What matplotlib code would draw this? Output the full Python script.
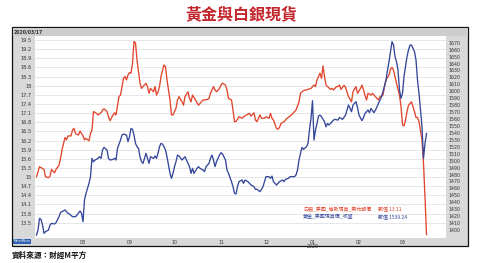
import matplotlib
matplotlib.use("Agg")
import matplotlib.pyplot as plt
from matplotlib.patches import Rectangle
import pandas as pd

CJK = ["Noto Sans CJK TC", "DejaVu Sans"]

title = "黃金與白銀現貨"
header_date = "2020/03/17"
source = "資料來源：財經M平方"
silver_name = "白銀_美國_倫敦現貨_美元報價"
gold_name = "黃金_美國現貨價_收盤"
silver_last = "13.11"
gold_last = "1539.24"

silver_dates = [
    "2019-07-01", "2019-07-02", "2019-07-03", "2019-07-04", "2019-07-06", "2019-07-07", "2019-07-09", "2019-07-10",
    "2019-07-11", "2019-07-13", "2019-07-14", "2019-07-16", "2019-07-17", "2019-07-18", "2019-07-20", "2019-07-21",
    "2019-07-22", "2019-07-24", "2019-07-25", "2019-07-26", "2019-07-27", "2019-07-29", "2019-07-30", "2019-08-01",
    "2019-08-02", "2019-08-03", "2019-08-05", "2019-08-06", "2019-08-07", "2019-08-08", "2019-08-10", "2019-08-11",
    "2019-08-13", "2019-08-14", "2019-08-15", "2019-08-17", "2019-08-18", "2019-08-19", "2019-08-21", "2019-08-22",
    "2019-08-23", "2019-08-25", "2019-08-26", "2019-08-28", "2019-08-29", "2019-08-30", "2019-08-31", "2019-09-01",
    "2019-09-02", "2019-09-03", "2019-09-04", "2019-09-05", "2019-09-06", "2019-09-08", "2019-09-09", "2019-09-10",
    "2019-09-12", "2019-09-13", "2019-09-14", "2019-09-15", "2019-09-17", "2019-09-18", "2019-09-19", "2019-09-20",
    "2019-09-21", "2019-09-22", "2019-09-24", "2019-09-25", "2019-09-26", "2019-09-27", "2019-09-28", "2019-09-29",
    "2019-09-30", "2019-10-02", "2019-10-03", "2019-10-04", "2019-10-06", "2019-10-07", "2019-10-08", "2019-10-10",
    "2019-10-11", "2019-10-12", "2019-10-13", "2019-10-15", "2019-10-16", "2019-10-17", "2019-10-19", "2019-10-20",
    "2019-10-21", "2019-10-23", "2019-10-24", "2019-10-25", "2019-10-27", "2019-10-28", "2019-10-29", "2019-10-31",
    "2019-11-01", "2019-11-02", "2019-11-04", "2019-11-05", "2019-11-06", "2019-11-08", "2019-11-09", "2019-11-10",
    "2019-11-11", "2019-11-13", "2019-11-15", "2019-11-16", "2019-11-18", "2019-11-20", "2019-11-21", "2019-11-23",
    "2019-11-24", "2019-11-25", "2019-11-27", "2019-11-28", "2019-11-30", "2019-12-01", "2019-12-03", "2019-12-04",
    "2019-12-05", "2019-12-06", "2019-12-08", "2019-12-09", "2019-12-10", "2019-12-11", "2019-12-13", "2019-12-15",
    "2019-12-17", "2019-12-18", "2019-12-20", "2019-12-21", "2019-12-23", "2019-12-24", "2019-12-26", "2019-12-28",
    "2019-12-29", "2019-12-31", "2020-01-02", "2020-01-03", "2020-01-04", "2020-01-06", "2020-01-07", "2020-01-08",
    "2020-01-09", "2020-01-10", "2020-01-11", "2020-01-13", "2020-01-14", "2020-01-15", "2020-01-17", "2020-01-18",
    "2020-01-19", "2020-01-20", "2020-01-22", "2020-01-23", "2020-01-25", "2020-01-27", "2020-01-28", "2020-01-30",
    "2020-01-31", "2020-02-02", "2020-02-03", "2020-02-05", "2020-02-06", "2020-02-07", "2020-02-09", "2020-02-10",
    "2020-02-11", "2020-02-13", "2020-02-14", "2020-02-15", "2020-02-17", "2020-02-18", "2020-02-19", "2020-02-21",
    "2020-02-22", "2020-02-23", "2020-02-24", "2020-02-25", "2020-02-26", "2020-02-28", "2020-02-29", "2020-03-01",
    "2020-03-02", "2020-03-03", "2020-03-04", "2020-03-05", "2020-03-07", "2020-03-08", "2020-03-09", "2020-03-10",
    "2020-03-11", "2020-03-12", "2020-03-14", "2020-03-15", "2020-03-16", "2020-03-17",
]
silver_values = [
    15.01, 15.18, 15.34, 15.31, 15.25, 15.01, 14.98, 15.03,
    15.25, 15.14, 15.25, 15.39, 15.61, 15.89, 16.30, 16.22,
    16.35, 16.35, 16.54, 16.60, 16.43, 16.38, 16.51, 16.35,
    16.22, 16.27, 16.19, 16.43, 16.54, 17.15, 17.09, 17.04,
    17.11, 17.20, 17.24, 17.15, 16.98, 16.85, 17.04, 17.11,
    17.04, 17.64, 17.69, 18.24, 18.30, 18.19, 18.35, 18.43,
    18.41, 18.73, 19.45, 19.40, 18.84, 18.08, 17.91, 17.97,
    18.08, 17.97, 17.75, 17.91, 17.80, 17.97, 17.69, 17.80,
    17.97, 18.30, 18.68, 18.62, 18.19, 17.86, 17.53, 17.04,
    17.04, 17.26, 17.53, 17.64, 17.47, 17.36, 17.64, 17.80,
    17.58, 17.47, 17.69, 17.53, 17.44, 17.36, 17.47, 17.53,
    17.53, 17.55, 17.58, 17.75, 17.97, 17.86, 17.80, 17.91,
    18.02, 18.08, 18.02, 17.86, 17.58, 17.53, 17.20, 16.82,
    16.82, 16.98, 16.93, 16.98, 17.04, 17.09, 17.00, 17.11,
    16.87, 16.82, 17.04, 16.93, 16.93, 16.98, 16.93, 17.09,
    16.93, 16.87, 16.60, 16.57, 16.63, 16.76, 16.82, 16.93,
    17.00, 17.04, 17.15, 17.20, 17.47, 17.75, 17.84, 17.86,
    17.88, 17.91, 18.02, 17.97, 18.19, 18.41, 18.24, 18.65,
    18.30, 18.02, 17.97, 17.88, 17.91, 17.86, 17.97, 17.97,
    18.02, 17.88, 18.01, 17.95, 17.64, 17.47, 17.80, 17.97,
    17.75, 17.91, 18.02, 17.69, 17.53, 17.75, 17.69, 17.75,
    17.69, 17.58, 17.53, 17.64, 17.69, 17.97, 18.19, 18.35,
    18.54, 18.60, 18.51, 18.30, 18.08, 17.69, 17.31, 16.71,
    16.68, 16.87, 17.15, 17.36, 17.47, 17.31, 17.15, 16.96,
    16.96, 16.82, 16.22, 15.45, 14.35, 13.11,
]

gold_dates = [
    "2019-07-01", "2019-07-02", "2019-07-03", "2019-07-04", "2019-07-05", "2019-07-06", "2019-07-07", "2019-07-09",
    "2019-07-10", "2019-07-11", "2019-07-13", "2019-07-14", "2019-07-16", "2019-07-17", "2019-07-18", "2019-07-20",
    "2019-07-22", "2019-07-23", "2019-07-25", "2019-07-27", "2019-07-28", "2019-07-30", "2019-07-31", "2019-08-01",
    "2019-08-02", "2019-08-03", "2019-08-05", "2019-08-06", "2019-08-07", "2019-08-08", "2019-08-09", "2019-08-11",
    "2019-08-12", "2019-08-13", "2019-08-14", "2019-08-15", "2019-08-17", "2019-08-18", "2019-08-19", "2019-08-21",
    "2019-08-22", "2019-08-23", "2019-08-24", "2019-08-26", "2019-08-27", "2019-08-28", "2019-08-30", "2019-08-31",
    "2019-09-01", "2019-09-02", "2019-09-03", "2019-09-04", "2019-09-05", "2019-09-06", "2019-09-07", "2019-09-08",
    "2019-09-09", "2019-09-10", "2019-09-11", "2019-09-12", "2019-09-13", "2019-09-14", "2019-09-15", "2019-09-17",
    "2019-09-18", "2019-09-19", "2019-09-20", "2019-09-21", "2019-09-22", "2019-09-23", "2019-09-24", "2019-09-25",
    "2019-09-26", "2019-09-27", "2019-09-28", "2019-09-29", "2019-09-30", "2019-10-01", "2019-10-02", "2019-10-03",
    "2019-10-04", "2019-10-06", "2019-10-07", "2019-10-08", "2019-10-10", "2019-10-11", "2019-10-12", "2019-10-13",
    "2019-10-14", "2019-10-16", "2019-10-17", "2019-10-18", "2019-10-20", "2019-10-21", "2019-10-22", "2019-10-24",
    "2019-10-25", "2019-10-26", "2019-10-27", "2019-10-28", "2019-10-29", "2019-10-31", "2019-11-01", "2019-11-02",
    "2019-11-04", "2019-11-05", "2019-11-06", "2019-11-08", "2019-11-09", "2019-11-10", "2019-11-11", "2019-11-12",
    "2019-11-13", "2019-11-15", "2019-11-16", "2019-11-17", "2019-11-19", "2019-11-20", "2019-11-21", "2019-11-23",
    "2019-11-24", "2019-11-25", "2019-11-27", "2019-11-28", "2019-11-29", "2019-11-30", "2019-12-01", "2019-12-03",
    "2019-12-04", "2019-12-05", "2019-12-06", "2019-12-08", "2019-12-09", "2019-12-10", "2019-12-12", "2019-12-13",
    "2019-12-14", "2019-12-16", "2019-12-17", "2019-12-18", "2019-12-20", "2019-12-21", "2019-12-22", "2019-12-23",
    "2019-12-24", "2019-12-25", "2019-12-26", "2019-12-28", "2019-12-29", "2019-12-30", "2019-12-31", "2020-01-01",
    "2020-01-02", "2020-01-03", "2020-01-04", "2020-01-05", "2020-01-06", "2020-01-07", "2020-01-09", "2020-01-10",
    "2020-01-11", "2020-01-12", "2020-01-14", "2020-01-15", "2020-01-16", "2020-01-18", "2020-01-19", "2020-01-20",
    "2020-01-21", "2020-01-23", "2020-01-24", "2020-01-25", "2020-01-26", "2020-01-27", "2020-01-28", "2020-01-30",
    "2020-01-31", "2020-02-01", "2020-02-03", "2020-02-04", "2020-02-05", "2020-02-07", "2020-02-08", "2020-02-09",
    "2020-02-11", "2020-02-12", "2020-02-13", "2020-02-15", "2020-02-16", "2020-02-17", "2020-02-19", "2020-02-20",
    "2020-02-21", "2020-02-22", "2020-02-23", "2020-02-24", "2020-02-25", "2020-02-26", "2020-02-27", "2020-02-28",
    "2020-02-29", "2020-03-01", "2020-03-02", "2020-03-03", "2020-03-04", "2020-03-05", "2020-03-06", "2020-03-07",
    "2020-03-08", "2020-03-09", "2020-03-10", "2020-03-11", "2020-03-12", "2020-03-13", "2020-03-14", "2020-03-15",
    "2020-03-16", "2020-03-17",
]
gold_values = [
    1392.8, 1400.0, 1416.8, 1415.4, 1407.2, 1395.2, 1397.6, 1400.0,
    1407.2, 1409.6, 1408.7, 1410.6, 1419.2, 1425.0, 1426.5, 1428.9,
    1424.1, 1423.1, 1419.2, 1419.2, 1421.6, 1427.4, 1424.1, 1412.0,
    1443.3, 1452.9, 1467.3, 1476.9, 1503.3, 1498.5, 1500.9, 1503.3,
    1505.7, 1503.3, 1515.3, 1519.1, 1515.3, 1503.3, 1500.9, 1501.8,
    1503.3, 1500.9, 1517.7, 1529.7, 1536.9, 1538.4, 1536.9, 1527.4,
    1534.5, 1546.5, 1545.1, 1536.9, 1524.9, 1520.1, 1517.7, 1505.7,
    1498.5, 1496.1, 1503.3, 1510.5, 1503.3, 1496.1, 1505.7, 1503.3,
    1506.7, 1503.3, 1510.5, 1520.1, 1524.9, 1523.9, 1520.1, 1515.3,
    1505.7, 1493.7, 1481.7, 1474.5, 1481.7, 1491.3, 1498.5, 1508.1,
    1506.7, 1500.9, 1503.3, 1505.7, 1496.1, 1491.3, 1481.7, 1488.9,
    1481.7, 1488.9, 1491.3, 1488.9, 1486.5, 1484.1, 1491.3, 1496.1,
    1503.3, 1508.1, 1500.9, 1491.3, 1498.5, 1508.1, 1511.5, 1509.6,
    1500.9, 1486.5, 1481.7, 1469.7, 1462.5, 1452.9, 1452.0, 1462.5,
    1469.7, 1472.1, 1467.3, 1472.1, 1469.7, 1467.3, 1464.9, 1462.5,
    1458.7, 1458.7, 1455.3, 1458.7, 1462.5, 1469.7, 1476.9, 1476.9,
    1474.5, 1477.8, 1469.7, 1464.9, 1467.3, 1469.7, 1472.1, 1469.7,
    1473.1, 1474.5, 1476.9, 1476.9, 1476.9, 1479.3, 1486.5, 1500.9,
    1510.5, 1519.1, 1516.3, 1520.1, 1524.9, 1544.1, 1561.0, 1586.4,
    1529.7, 1544.1, 1553.7, 1564.3, 1565.7, 1563.3, 1556.1, 1548.9,
    1553.7, 1551.3, 1556.1, 1558.5, 1559.5, 1558.5, 1562.3, 1561.0,
    1559.5, 1565.7, 1573.0, 1580.2, 1575.4, 1570.6, 1580.2, 1585.0,
    1576.8, 1565.7, 1557.6, 1562.3, 1568.1, 1573.0, 1569.1, 1575.4,
    1569.1, 1573.0, 1577.8, 1587.4, 1592.2, 1599.4, 1616.2, 1630.7,
    1642.7, 1657.1, 1671.5, 1666.7, 1649.9, 1642.7, 1630.7, 1601.8,
    1589.8, 1597.0, 1621.0, 1635.4, 1649.9, 1659.5, 1666.7, 1666.7,
    1661.9, 1657.1, 1645.1, 1616.2, 1597.0, 1573.0, 1549.0, 1503.3,
    1524.9, 1539.24,
]

month_ticks = ["2019-08-01", "2019-09-01", "2019-10-01", "2019-11-01",
               "2019-12-01", "2020-01-01", "2020-02-01", "2020-03-01"]
month_labels = ["08", "09", "10", "11", "12", "01\n2020", "02", "03"]
silver_ticks = [13.5, 13.8, 14.1, 14.4, 14.7, 15.0, 15.3, 15.6, 15.9, 16.2, 16.5,
                16.8, 17.1, 17.4, 17.7, 18.0, 18.3, 18.6, 18.9, 19.2, 19.5]
gold_ticks = list(range(1400, 1680, 10))

RED = "#e2452b"
BLUE = "#34479a"

W, H = 484, 263
fig = plt.figure(figsize=(W / 100, H / 100), dpi=100)
fig.patch.set_facecolor("white")

def fx(px):
    return px / W

def fy(py):
    return 1 - py / H

# outer frame (drawn beneath the axes)
fig.patches.append(Rectangle((fx(12), fy(246)), fx(468) - fx(12), fy(27) - fy(246),
                             transform=fig.transFigure, facecolor="#d9d9d9",
                             edgecolor="#111111", linewidth=0.9, zorder=-3))
fig.patches.append(Rectangle((fx(12.5), fy(36)), fx(467.5) - fx(12.5), fy(27.5) - fy(36),
                             transform=fig.transFigure, facecolor="#cdcdcd",
                             edgecolor="none", zorder=-2))

fig.text(fx(241), fy(14), title, color="#c3262c", fontsize=11.5, fontweight="bold",
         family=CJK, ha="center", va="center")
fig.text(fx(14), fy(31.5), header_date, color="#333333", fontsize=3.3, fontweight="bold",
         ha="left", va="center")

ax = fig.add_axes([fx(35), fy(238), fx(446) - fx(35), fy(36) - fy(238)])
ax.set_facecolor("white")
for s in ax.spines.values():
    s.set_visible(False)

ax.set_ylim(13.0, 19.63)
ax.set_yticks(silver_ticks)
ax.set_yticklabels([f"{v:g}" for v in silver_ticks])
ax.grid(axis="y", color="#e3e3e3", linewidth=0.6)
ax.set_axisbelow(True)
ax.tick_params(axis="y", length=0, pad=2.2, labelsize=3.6, labelcolor="#333333")

sd = pd.to_datetime(silver_dates)
gd = pd.to_datetime(gold_dates)
ax.plot(sd, silver_values, color=RED, linewidth=0.95, zorder=3)

ax.set_xlim(pd.Timestamp("2019-06-30"), pd.Timestamp("2020-03-30"))
ax.set_xticks(pd.to_datetime(month_ticks))
ax.set_xticklabels(month_labels, linespacing=0.9)
ax.tick_params(axis="x", length=0, pad=1.2, labelsize=3.4, labelcolor="#333333")

ax2 = ax.twinx()
for s in ax2.spines.values():
    s.set_visible(False)
ax2.plot(gd, gold_values, color=BLUE, linewidth=0.95, zorder=3)
ax2.set_ylim(1388.5, 1679.7)
ax2.set_yticks(gold_ticks)
ax2.tick_params(axis="y", length=0, pad=1.8, labelsize=3.4, labelcolor="#333333")

# legend texts
fig.text(fx(303), fy(209), silver_name, color=RED, fontsize=3.6, family=CJK, ha="left", va="center", zorder=5)
fig.text(fx(378), fy(209), "數值 " + silver_last, color=RED, fontsize=3.6, family=CJK, ha="left", va="center", zorder=5)
fig.text(fx(303), fy(217), gold_name, color=BLUE, fontsize=3.6, family=CJK, ha="left", va="center", zorder=5)
fig.text(fx(378), fy(217), "數值 " + gold_last, color=BLUE, fontsize=3.6, family=CJK, ha="left", va="center", zorder=5)

# logo box bottom-left
fig.patches.append(Rectangle((fx(12.5), fy(243.5)), fx(31) - fx(12.5), fy(238.5) - fy(243.5),
                             transform=fig.transFigure, facecolor="#2f5fae",
                             edgecolor="none", zorder=-1))
fig.text(fx(21.7), fy(241), "MacroMicro", color="white", fontsize=2.2, ha="center", va="center")

fig.text(fx(12), fy(255), source, color="#111111", fontsize=5.5, fontweight="bold",
         family=CJK, ha="left", va="center")

fig.savefig("out.png", dpi=100)
